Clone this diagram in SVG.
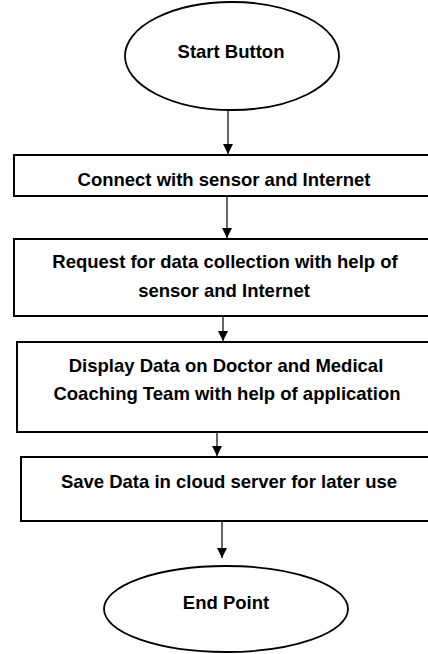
<svg xmlns="http://www.w3.org/2000/svg" width="428" height="654" viewBox="0 0 428 654">
<defs>
<marker id="ah" viewBox="0 0 10 10" refX="10" refY="5" markerWidth="10" markerHeight="10" markerUnits="userSpaceOnUse" orient="auto">
<path d="M0,0 L10,5 L0,10 Z" fill="#000"/>
</marker>
<style>
.box{fill:#fff;stroke:#000;stroke-width:2}
.ell{fill:#fff;stroke:#000;stroke-width:1.8}
.t{font-family:"Liberation Sans",Arial,sans-serif;font-weight:bold;font-size:18.5px;fill:#000;text-anchor:middle}
.c{stroke:#000;stroke-width:1.2;fill:none;marker-end:url(#ah)}
</style>
</defs>
<rect width="428" height="654" fill="#fff"/>
<g id="connectors">
<line class="c" x1="228" y1="110" x2="228" y2="154"/>
<line class="c" x1="227" y1="196" x2="227" y2="238"/>
<line class="c" x1="223" y1="316" x2="223" y2="341"/>
<line class="c" x1="217" y1="433" x2="217" y2="456"/>
<line class="c" x1="222" y1="521" x2="222" y2="558"/>
</g>
<g id="start">
<ellipse class="ell" cx="232" cy="56" rx="107" ry="54"/>
<text class="t" x="231" y="58">Start Button</text>
</g>
<g id="connect">
<rect class="box" x="14" y="155" width="420" height="41"/>
<text class="t" x="224" y="186">Connect with sensor and Internet</text>
</g>
<g id="request">
<rect class="box" x="14" y="239" width="420" height="77"/>
<text class="t" x="225" y="268">Request for data collection with help of</text>
<text class="t" x="224" y="297">sensor and Internet</text>
</g>
<g id="display">
<rect class="box" x="17" y="342" width="420" height="90"/>
<text class="t" x="226" y="372">Display Data on Doctor and Medical</text>
<text class="t" x="227" y="400">Coaching Team with help of application</text>
</g>
<g id="save">
<rect class="box" x="21" y="457" width="420" height="64"/>
<text class="t" x="229" y="488">Save Data in cloud server for later use</text>
</g>
<g id="end">
<ellipse class="ell" cx="226" cy="609" rx="122" ry="43"/>
<text class="t" x="226" y="609">End Point</text>
</g>
</svg>
